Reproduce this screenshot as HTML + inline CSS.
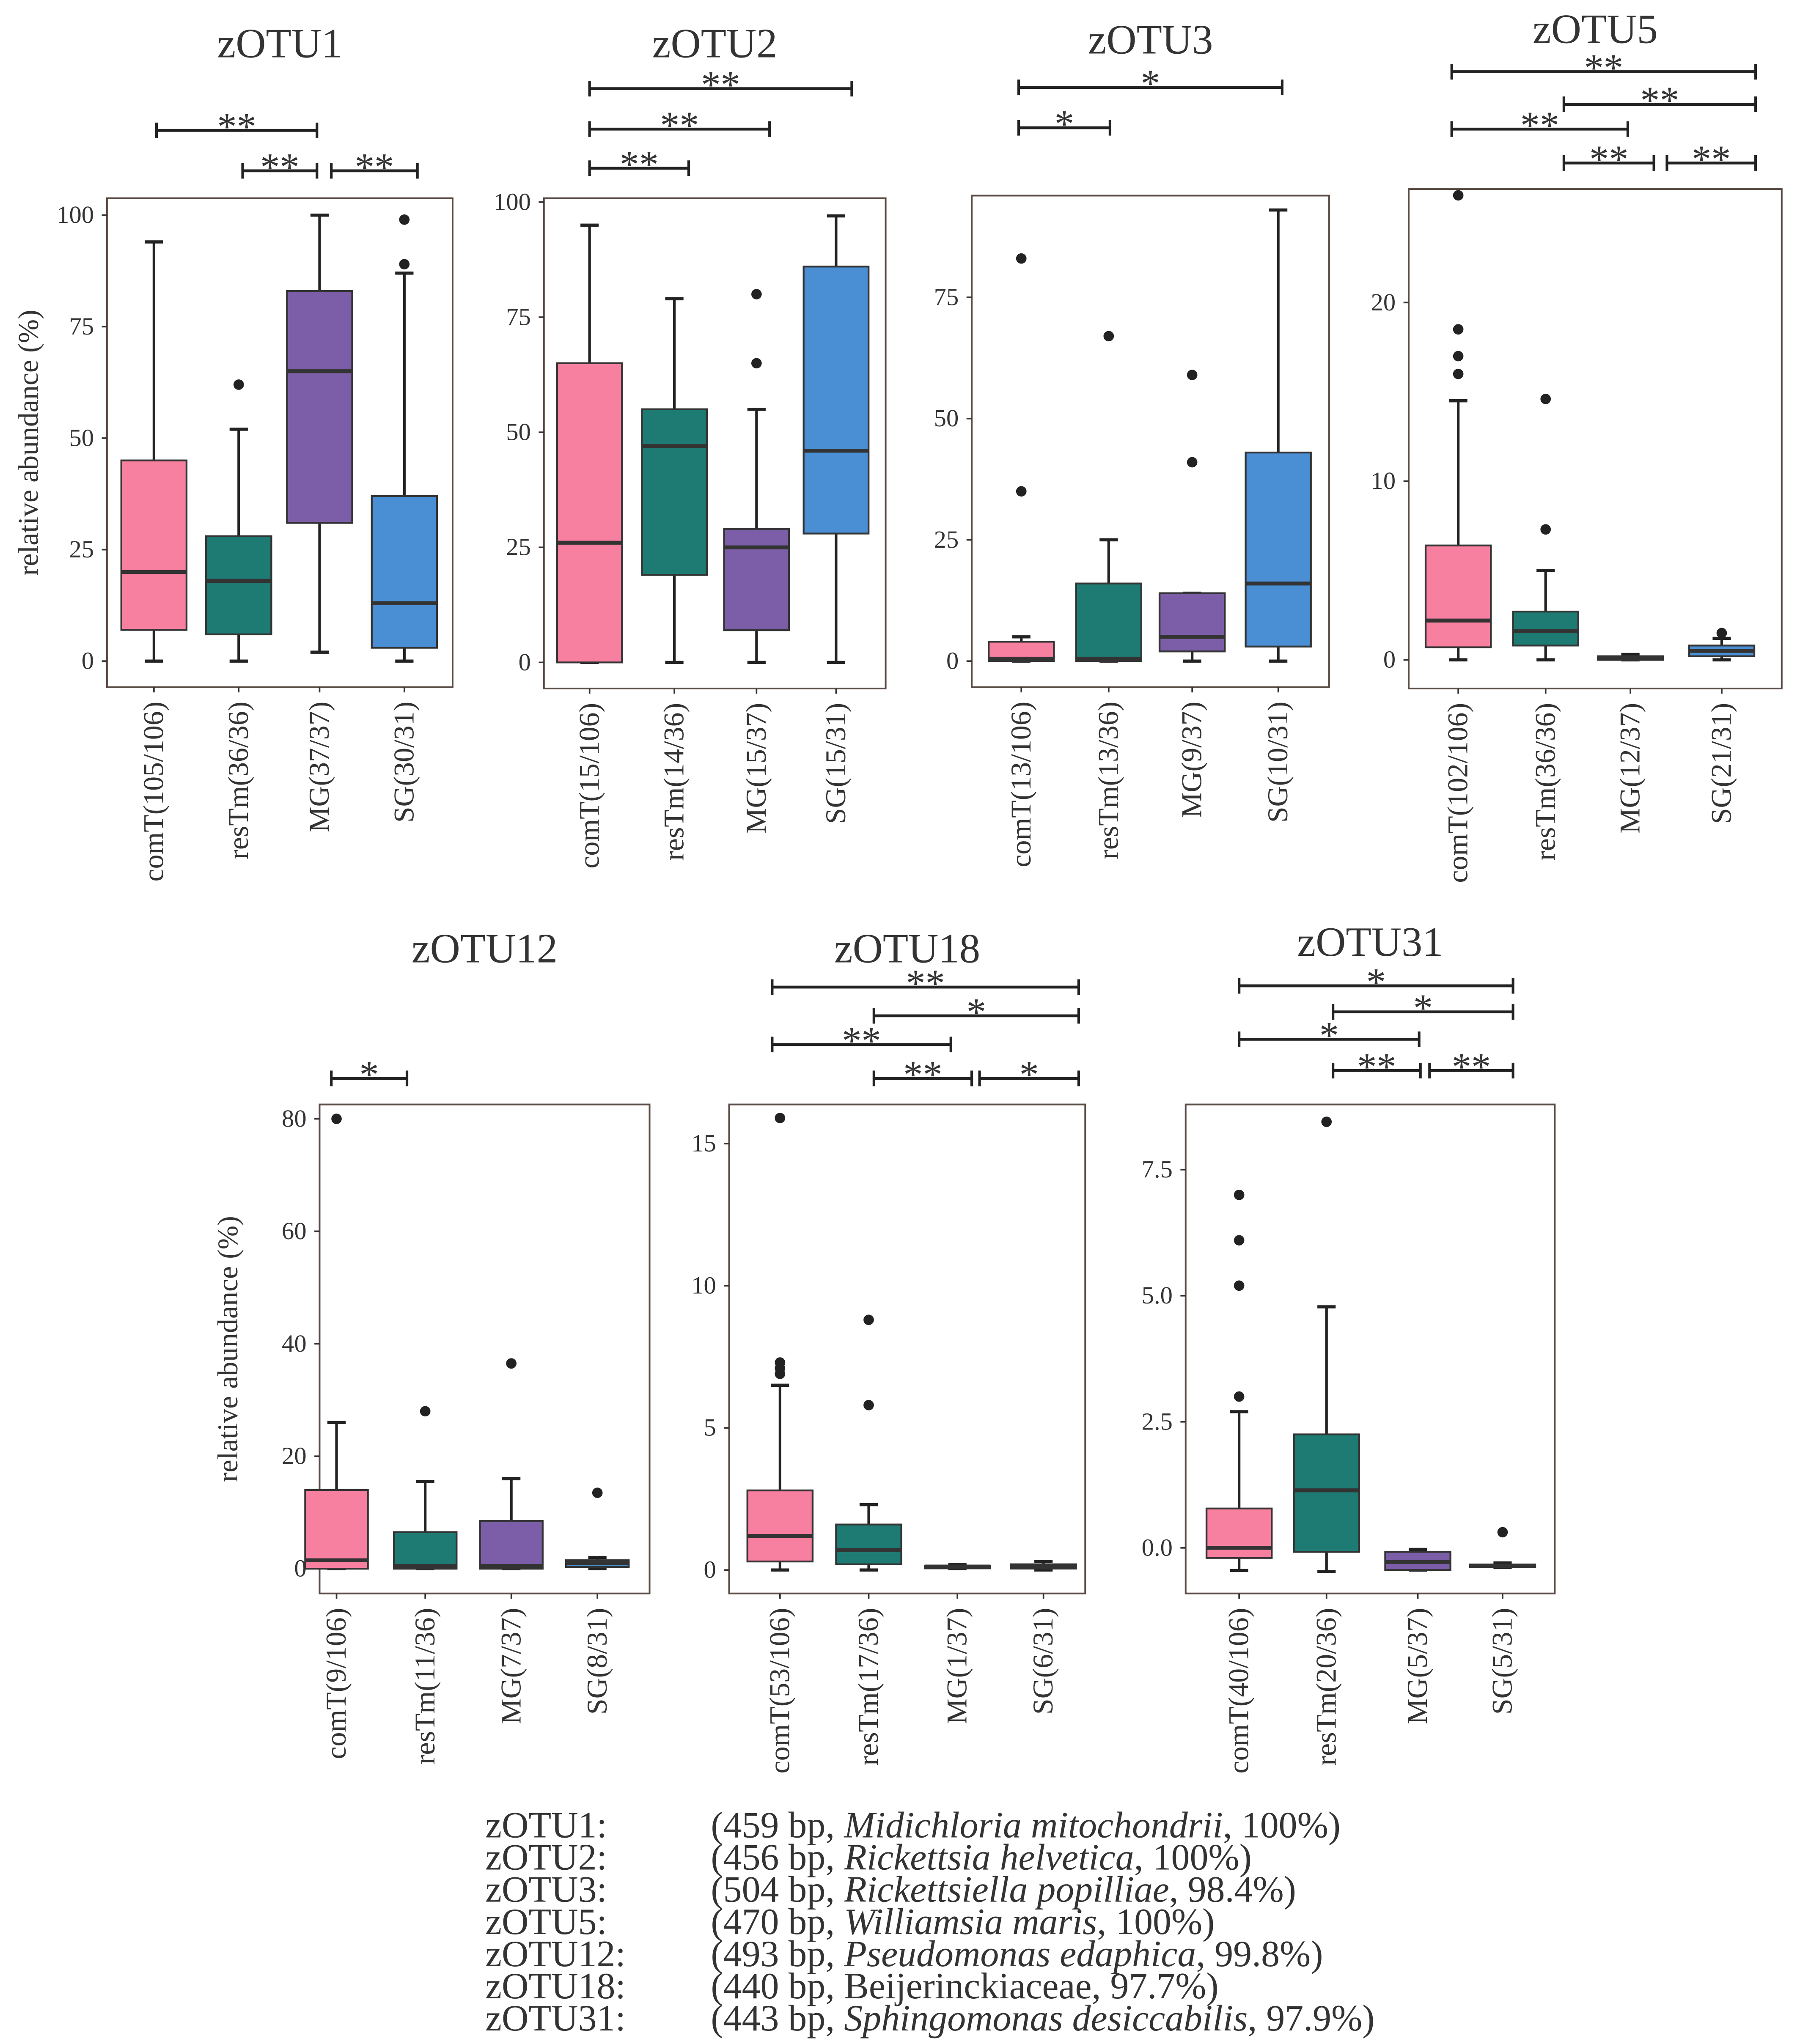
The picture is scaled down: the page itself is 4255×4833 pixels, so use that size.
<!DOCTYPE html>
<html><head><meta charset="utf-8">
<style>html,body{margin:0;padding:0;background:#fff}svg{display:block}text{font-family:"Liberation Serif",serif;fill:#333}</style>
</head><body>
<svg id="chart" xmlns="http://www.w3.org/2000/svg" width="4255" height="4833" viewBox="0 0 1380 1567.5"></svg>
<script>
const groups = ["comT","resTm","MG","SG"];
const colors = ["#f77fa0","#1e7b73","#7b5ea7","#4a8fd4"];
const titles = ["zOTU1","zOTU2","zOTU3","zOTU5","zOTU12","zOTU18","zOTU31"];
const counts = [["105/106","36/36","37/37","30/31"],["15/106","14/36","15/37","15/31"],["13/106","13/36","9/37","10/31"],["102/106","36/36","12/37","21/31"],["9/106","11/36","7/37","8/31"],["53/106","17/36","1/37","6/31"],["40/106","20/36","5/37","5/31"]];
// [low, q1, median, q3, high] per group
const stats1 = [[0,7,20,45,94],[0,6,18,28,52],[2,31,65,83,100],[0,3,13,37,87]];
const stats2 = [[0,0,26,65,95],[0,19,47,55,79],[0,7,25,29,55],[0,28,46,86,97]];
const stats3 = [[0,0,0.5,4,5],[0,0,0.5,16,25],[0,2,5,14,14],[0,3,16,43,93]];
const stats5 = [[0,0.7,2.2,6.4,14.5],[0,0.8,1.6,2.7,5],[0,0,0.1,0.2,0.3],[0,0.2,0.5,0.8,1.2]];
const stats12 = [[0,0,1.5,14,26],[0,0,0.5,6.5,15.5],[0,0,0.5,8.5,16],[0,0.3,1,1.5,2]];
const stats18 = [[0,0.3,1.2,2.8,6.5],[0,0.2,0.7,1.6,2.3],[0.05,0.1,0.12,0.15,0.2],[0,0.05,0.1,0.2,0.3]];
const stats31 = [[-0.45,-0.2,0.0,0.78,2.7],[-0.47,-0.08,1.14,2.25,4.78],[-0.44,-0.44,-0.28,-0.08,-0.03],[-0.39,-0.38,-0.36,-0.33,-0.3]];
const out1 = [[],[62],[],[89,99]];
const out2 = [[],[],[65,80],[]];
const out3 = [[35,83],[67],[41,59],[]];
const out5 = [[16,17,18.5,26],[7.3,14.6],[],[1.5]];
const out12 = [[80],[28],[36.5],[13.5]];
const out18 = [[6.9,7.1,7.3,15.9],[5.8,8.8],[],[]];
const out31 = [[3.0,5.2,6.1,7.0],[8.45],[],[0.31]];
const ticks1=[0,25,50,75,100], ticks2=[0,25,50,75,100], ticks3=[0,25,50,75], ticks5=[0,10,20], ticks12=[0,20,40,60,80], ticks18=[0,5,10,15], ticks31=[0,2.5,5,7.5];
const tickLabels31=["0.0","2.5","5.0","7.5"];
// significance brackets: [groupA, groupB, level, label]
const sig1=[[0,2,0,"**"],[1,2,1,"**"],[2,3,1,"**"]];
const sig2=[[0,3,0,"**"],[0,2,1,"**"],[0,1,2,"**"]];
const sig3=[[0,3,0,"*"],[0,1,1,"*"]];
const sig5=[[0,3,0,"**"],[1,3,1,"**"],[0,2,2,"**"],[1,2,3,"**"],[2,3,3,"**"]];
const sig12=[[0,1,3,"*"]];
const sig18=[[0,3,0,"**"],[1,3,1,"*"],[0,2,2,"**"],[1,2,3,"**"],[2,3,3,"*"]];
const sig31=[[0,3,0,"*"],[1,3,1,"*"],[0,2,2,"*"],[1,2,3,"**"],[2,3,3,"**"]];

// layout (not data): bx = bracket anchor x per group; MG has [as-right-end, as-left-end]
const panels=[
 {s:stats1,o:out1,t:ticks1,sig:sig1,x0:82,x1:347,y0:152,y1:527,v0:507,vt:165,vmax:100,cx:[118,183,245,310],bx:[120,186,[243,254],320],ty:33,sy:[100,131,131,131],ylab:22},
 {s:stats2,o:out2,t:ticks2,sig:sig2,x0:417,x1:679,y0:152,y1:528,v0:508,vt:155,vmax:100,cx:[452,517,580,641],bx:[452,528,[590,590],653],ty:33,sy:[68,99,129]},
 {s:stats3,o:out3,t:ticks3,sig:sig3,x0:745,x1:1019,y0:150,y1:527,v0:507,vt:228,vmax:75,cx:[783,850,914,980],bx:[781,851,[914,914],983],ty:30,sy:[67,98]},
 {s:stats5,o:out5,t:ticks5,sig:sig5,x0:1080,x1:1366,y0:145,y1:528,v0:506,vt:232,vmax:20,cx:[1118,1185,1250,1320],bx:[1113,1199,[1268,1278],1346],ty:22,sy:[55,80,99,125],mgLeft:1248},
 {s:stats12,o:out12,t:ticks12,sig:sig12,x0:245,x1:498,y0:847,y1:1222,v0:1203,vt:858,vmax:80,cx:[258,326,392,458],bx:[254,312,[392,392],458],ty:727,sy:[0,0,0,827],ylab:175},
 {s:stats18,o:out18,t:ticks18,sig:sig18,x0:559,x1:832,y0:847,y1:1222,v0:1204,vt:877,vmax:15,cx:[598,666,734,800],bx:[592,670,[745,751],827],ty:727,sy:[757,779,801,827],mgLeft:729},
 {s:stats31,o:out31,t:ticks31,tl:tickLabels31,sig:sig31,x0:909,x1:1192,y0:847,y1:1222,v0:1187,vt:897,vmax:7.5,cx:[950,1017,1087,1152],bx:[950,1022,[1089,1096],1160],ty:722,sy:[756,776,797,821],mgLeft:1088}
];
const svg=document.getElementById('chart');
const NS="http://www.w3.org/2000/svg";
function mk(tag,attrs,parent,txt){const e=document.createElementNS(NS,tag);for(const k in attrs)e.setAttribute(k,attrs[k]);if(txt!==undefined)e.textContent=txt;(parent||svg).appendChild(e);return e;}
panels.forEach((p,pi)=>{
 const g=mk('g',{});
 
 
 const y=v=>p.v0-(p.v0-p.vt)*v/p.vmax;
 const bw=Math.min(50,(p.x1-p.x0)/4*0.76);
 const tt=mk('text',{x:(p.x0+p.x1)/2,y:p.ty+11,'text-anchor':'middle','font-size':32},g,titles[pi]);
 
 
 const fr=mk('rect',{x:p.x0,y:p.y0,width:p.x1-p.x0,height:p.y1-p.y0,fill:'none',stroke:'#5a4a44','stroke-width':1.3},g);
 
 
 p.t.forEach((tv,ti)=>{
  mk('line',{x1:p.x0-4,x2:p.x0,y1:y(tv),y2:y(tv),stroke:'#333','stroke-width':1.2},g);
  const lb=mk('text',{x:p.x0-10,y:y(tv)+6,'text-anchor':'end','font-size':19},g,p.tl?p.tl[ti]:String(tv));
  
  
 });
 if(p.ylab){const yl=mk('text',{transform:`translate(${p.ylab+7},${(p.y0+p.y1)/2}) rotate(-90)`,'text-anchor':'middle','font-size':22},g,'relative abundance (%)');
  
  }
 p.s.forEach((st,gi)=>{
  const cx=p.cx[gi];
  const bg=mk('g',{},g);
  
  
  mk('line',{x1:cx,x2:cx,y1:y(st[0]),y2:y(st[4]),stroke:'#222','stroke-width':2},bg);
  mk('line',{x1:cx-7,x2:cx+7,y1:y(st[0]),y2:y(st[0]),stroke:'#222','stroke-width':2.4},bg);
  mk('line',{x1:cx-7,x2:cx+7,y1:y(st[4]),y2:y(st[4]),stroke:'#222','stroke-width':2.4},bg);
  mk('rect',{x:cx-bw/2,y:y(st[3]),width:bw,height:Math.max(2,y(st[1])-y(st[3])),fill:colors[gi],stroke:'#333','stroke-width':1.4},bg);
  mk('line',{x1:cx-bw/2,x2:cx+bw/2,y1:y(st[2]),y2:y(st[2]),stroke:'#333','stroke-width':3},bg);
  p.o[gi].forEach(ov=>{const c=mk('circle',{cx:cx,cy:y(ov),r:4,fill:'#222'},bg);
   
   });
  mk('line',{x1:cx,x2:cx,y1:p.y1,y2:p.y1+4,stroke:'#333','stroke-width':1.2},g);
  const xl=mk('text',{transform:`translate(${cx+7},${p.y1+11}) rotate(-90)`,'text-anchor':'end','font-size':22},g,groups[gi]+'('+counts[pi][gi]+')');
  
  
 });
 p.sig.forEach(sg=>{
  const by=p.sy[sg[2]];
  const xa=Array.isArray(p.bx[sg[0]])?p.bx[sg[0]][1]:p.bx[sg[0]];
  let xb=Array.isArray(p.bx[sg[1]])?p.bx[sg[1]][0]:p.bx[sg[1]];
  if(sg[1]===2&&sg[0]===0&&p.mgLeft)xb=p.mgLeft;
  const b=mk('g',{},g);
  
  
  mk('line',{x1:xa,x2:xb,y1:by,y2:by,stroke:'#222','stroke-width':2.2},b);
  mk('line',{x1:xa,x2:xa,y1:by-6,y2:by+6,stroke:'#222','stroke-width':2},b);
  mk('line',{x1:xb,x2:xb,y1:by-6,y2:by+6,stroke:'#222','stroke-width':2},b);
  mk('text',{x:(xa+xb)/2,y:by+7,'text-anchor':'middle','font-size':30},b,sg[3]);
 });
});
const legName=["zOTU1:","zOTU2:","zOTU3:","zOTU5:","zOTU12:","zOTU18:","zOTU31:"];
const legDesc=[["459 bp, ","Midichloria mitochondrii",", 100%"],["456 bp, ","Rickettsia helvetica",", 100%"],["504 bp, ","Rickettsiella popilliae",", 98.4%"],["470 bp, ","Williamsia maris",", 100%"],["493 bp, ","Pseudomonas edaphica",", 99.8%"],["440 bp, Beijerinckiaceae","",", 97.7%"],["443 bp, ","Sphingomonas desiccabilis",", 97.9%"]];
const lg=mk('g',{});


legName.forEach((n,i)=>{
 const ly=1409+i*24.7;
 mk('text',{x:372,y:ly,'font-size':28.5},lg,n);
 const t=mk('text',{x:545,y:ly,'font-size':28.5},lg);
 t.appendChild(document.createTextNode('('+legDesc[i][0]));
 if(legDesc[i][1]){mk('tspan',{'font-style':'italic'},t,legDesc[i][1]);}
 t.appendChild(document.createTextNode(legDesc[i][2]+')'));
});
</script>
</body></html>
